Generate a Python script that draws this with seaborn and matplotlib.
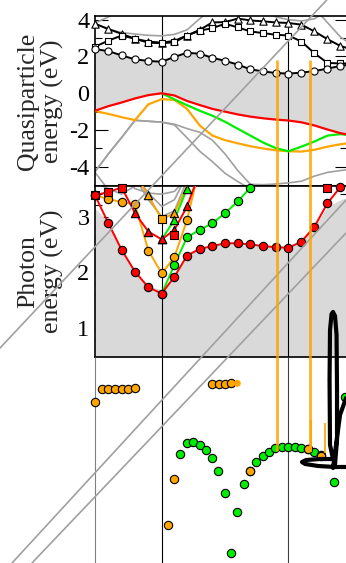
import numpy as np
import matplotlib
matplotlib.use("Agg")
import matplotlib.pyplot as plt
import seaborn as sns

nan = np.nan

# k-path coordinate of the sampled points (0 -> 1 -> 2.9 -> beyond)
kx = np.r_[np.linspace(0, 1, 6), np.linspace(1, 2.9, 11)[1:], 2.9 + 0.195 * np.arange(1, 6)]
k_symm = [1.0, 2.9]

# ---- quasiparticle bands (eV) ----
cb1 = [2.40, 2.29, 2.06, 1.84, 1.76, 1.71, 1.98, 2.20, 2.15, 1.93, 1.76, 1.56, 1.30, 1.19, 1.10, 1.07, 1.12, 1.21, 1.34, 1.49, 1.58]
cb2 = [2.53, 2.86, 3.14, 2.96, 2.75, 2.72, 2.77, 3.14, 3.40, 3.54, 3.78, 3.58, 3.36, 3.27, 3.18, 3.14, 2.81, 2.17, 1.65, 1.62, 1.62]
cb3 = [3.78, 3.49, 3.23, 2.96, 2.81, 2.75, 2.85, 3.14, 3.45, 3.85, 3.87, 4.06, 3.96, 3.91, 3.85, 3.82, 3.73, 3.36, 2.94, 2.57, 2.35]
vb_red = [-0.95, -0.70, -0.50, -0.28, -0.10, 0.00, -0.12, -0.42, -0.64, -0.85, -1.00, -1.15, -1.27, -1.36, -1.43, -1.48, -1.58, -1.75, -1.97, -2.17, -2.30]
vb_green = [nan] * 5 + [0.00, -0.33, -0.65, -0.95, -1.22, -1.55, -1.93, -2.30, -2.68, -2.98, -3.15, -2.90, -2.62, -2.30, -2.22, -2.30]
vb_orange = [-0.97, -1.12, -1.30, -1.46, -0.60, -0.32, -0.36, -0.85, -1.75, -2.30, -2.55, -2.72, -2.88, -3.00, -3.10, -3.15, -3.17, -3.07, -2.90, -2.77, -2.68]
vb_gray_a = [-4.26, -3.30, -2.40, -1.47, -1.52, -1.57, -1.72, -2.42, -3.15, -3.72, -4.35, -4.80, -5.20] + [nan] * 8
vb_gray_b = [-4.26, -3.30, -2.40, -1.47, -1.52, -1.57, -1.68, -1.92, -2.12, -2.55, -3.30, -4.20, -4.95, -4.97, -4.93, -4.87, -4.78, -4.50, -4.30, -4.20, -4.12]
vb_gray_c = [-4.30, -5.25] + [nan] * 19
cb_gray_a = [3.78, 3.49, 3.30, 3.22, 3.15, 3.12, 3.20, 3.45, 4.05, 4.60] + [nan] * 11
cb_gray_b = [3.82, 4.15, 4.50] + [nan] * 18
cb_gray_c = [nan] * 13 + [4.50, 4.15, 4.00, 3.93, 4.05, 4.50] + [nan] * 2
cb_gray_d = [nan] * 17 + [4.62, 3.84, 3.06, 2.55]

# ---- optical excitations (eV) ----
exc_onset = [3.15, 2.90, 2.42, 2.03, 1.76, 1.68, 1.94, 2.30, 2.42, 2.47, 2.52, 2.52, 2.50, 2.47, 2.45, 2.44, 2.55, 2.82, 3.18, 3.30, 3.38]
exc_red = [3.38, 2.88, 2.40, 2.01, 1.73, 1.62, 1.92, 2.30, 2.42, 2.47, 2.52, 2.52, 2.50, 2.47, 2.45, 2.44, 2.55, 2.82, 3.24, 3.53, 3.80]
exc_orange = [3.38, 3.31, 3.26, 3.22, 2.39, 1.98, 2.27, 2.94, 3.90] + [nan] * 12
exc_green = [nan] * 5 + [1.62, 2.13, 2.63, 2.76, 2.88, 3.06, 3.27, 3.52] + [nan] * 8
exc_red2 = [3.38, 3.44, 3.52, 3.06, 2.73, 2.59, 2.76, 3.18, 3.80] + [nan] * 12
exc_orange2 = [nan] * 3 + [3.75, 3.38, 2.95, 3.06, 3.55] + [nan] * 13
exc_green2 = [nan] * 5 + [2.59, 2.94, 3.50] + [nan] * 13
exc_red_sq_k = [kx[6], kx[18]]
exc_red_sq = [2.67, 3.52]
exc_gray = [
    [nan] * 3 + [3.70, 3.30, 3.00, 3.10, 3.65] + [nan] * 13,
    [nan] * 3 + [3.75, 3.42, 3.18, 3.30, 3.75] + [nan] * 13,
    [nan] * 2 + [3.70, 3.50, 3.42, 3.40, 3.45, 3.70] + [nan] * 13,
    [3.60, 3.50, 3.40, 3.55, 3.80] + [nan] * 16,
]

# ---- loose traces below the panels (same k / energy units) ----
stray_orange_k = [0.000, 0.100, 0.199, 0.300, 0.400, 0.499, 0.600, 1.759, 1.854, 1.949, 2.043, 1.184, 1.090, 2.324, 3.198, 3.388]
stray_orange_e = [-0.330, -0.091, -0.091, -0.091, -0.091, -0.086, -0.079, -0.007, -0.007, -0.002, 0.010, -1.704, -2.523, -1.561, -1.172, -1.287]
stray_orange_tail_k = [2.133]
stray_orange_tail_e = [0.010]
stray_green_k = [1.274, 1.375, 1.474, 1.570, 1.660, 1.759, 1.849, 1.945, 2.039, 2.133, 2.229, 2.324, 2.418,
                 2.514, 2.609, 2.703, 2.799, 2.894, 2.994, 3.088, 3.189, 3.288, 3.384, 3.588, 3.748]
stray_green_e = [-1.256, -1.065, -1.041, -1.090, -1.185, -1.333, -1.561, -1.950, -3.025, -2.296, -1.794, -1.556, -1.394,
                 -1.292, -1.215, -1.149, -1.136, -1.125, -1.125, -1.143, -1.172, -1.215, -1.274, -1.758, -0.229]
orange_trace_k = [2.724, 3.223]
orange_trace_top = [5.805, 5.805]
orange_trace_bot = [-1.203, -1.203]
orange_spike_k = [3.238, 3.448]
orange_spike_top = [-0.647, -0.700]
orange_spike_bot = [-1.220, -1.240]
blob_k = [3.763, 3.598, 3.343, 3.148, 3.103, 3.163, 3.373, 3.568, 3.523, 3.516, 3.523, 3.546, 3.568, 3.598, 3.621,
          3.628, 3.628, 3.598, 3.568, 3.613, 3.673, 3.763]
blob_e = [-1.489, -1.489, -1.471, -1.435, -1.400, -1.364, -1.346, -1.346, -1.095, 0.070, 0.966, 1.253, 1.289, 1.217,
          0.876, -0.109, -1.005, -1.435, -1.507, -1.095, -0.557, -0.253]
guide_start = [(-1.424, 0.643), (-1.244, -3.210), (-0.945, -3.210)]
guide_end = [(3.474, 6.880), (3.763, 3.296), (3.763, 2.704)]

# ---------------------------------------------------------------
sns.set_theme(style="ticks")
plt.rcParams["font.family"] = ["Liberation Serif", "DejaVu Serif"]
plt.rcParams["axes.unicode_minus"] = False

RED, GREEN, ORANGE, GRAY, FILL = "#ff0000", "#00ee00", "#ffa500", "#a0a0a0", "#d9d9d9"

W, H = 346, 563
fig = plt.figure(figsize=(W / 100, H / 100), dpi=100)
x_left, x_right = 95, 346.5
ax_qp = fig.add_axes([x_left / W, (H - 186) / H, (x_right - x_left) / W, 170 / H])
ax_ph = fig.add_axes([x_left / W, (H - 357) / H, (x_right - x_left) / W, 171 / H])
k_max = 3.77
qp_lim = (-5.04, 4.2)
ph_lim = (0.482, 3.547)

kx_edge = np.r_[kx, k_max]


def line(ax, y, color, lw, z=3):
    y = np.asarray(y, float)
    m = ~np.isnan(y)
    sns.lineplot(x=kx[m], y=y[m], ax=ax, color=color, lw=lw, sort=False,
                 estimator=None, zorder=z, legend=False)


def dots(ax, x, y, marker, face, s, z=4, ylim=None):
    x = np.asarray(x, float)
    y = np.asarray(y, float)
    m = ~np.isnan(y)
    if ylim is not None:
        m &= (y >= ylim[0]) & (y <= ylim[1] + 0.03)
    sns.scatterplot(x=x[m], y=y[m], ax=ax, marker=marker, color=face, edgecolor="black",
                    linewidth=0.8, s=s, zorder=z, clip_on=False, legend=False)


for ax, lim in ((ax_qp, qp_lim), (ax_ph, ph_lim)):
    ax.set_xlim(0, k_max)
    ax.set_ylim(*lim)
    ax.set_xticks([])
    for sp in ax.spines.values():
        sp.set_color("black")
        sp.set_linewidth(1.2)
        sp.set_visible(True)
    for k in k_symm:
        ax.axvline(k, color="black", lw=0.8, zorder=1.5)
    ax.tick_params(axis="y", which="both", direction="in", left=True, right=True,
                   colors="black", width=0.8, labelsize=17.5, pad=4)
    ax.tick_params(axis="y", which="major", length=9)
    ax.tick_params(axis="y", which="minor", length=4.8)

# ---- quasiparticle panel ----
ax_qp.fill_between(kx_edge, np.r_[vb_red, vb_red[-1]], np.r_[cb1, cb1[-1]], color=FILL, lw=0, zorder=1)
for g in (vb_gray_a, vb_gray_b, vb_gray_c, cb_gray_a, cb_gray_b, cb_gray_c, cb_gray_d):
    line(ax_qp, g, GRAY, 1.2, z=2)
line(ax_qp, vb_orange, ORANGE, 1.6)
line(ax_qp, vb_green, GREEN, 1.6)
line(ax_qp, vb_red, RED, 1.6)
for band, mk, s in ((cb3, "^", 28), (cb2, "s", 22), (cb1, "o", 26)):
    line(ax_qp, band, "black", 1.4)
    dots(ax_qp, kx, band, mk, "white", s)
ax_qp.set_yticks([4, 2, 0, -2, -4])
ax_qp.set_yticks([3, 1, -1, -3], minor=True)
ax_qp.set_ylabel("Quasiparticle\nenergy (eV)", fontsize=18.5, linespacing=1.1)
ax_qp.yaxis.set_label_coords(-0.122, 0.5)

# ---- photon panel ----
ax_ph.fill_between(kx_edge, ph_lim[0], np.r_[exc_onset, exc_onset[-1]], color=FILL, lw=0, zorder=1)
for g in exc_gray:
    line(ax_ph, g, GRAY, 1.2, z=2)
line(ax_ph, exc_orange2, ORANGE, 1.4)
line(ax_ph, exc_orange, ORANGE, 1.4)
line(ax_ph, exc_green2, GREEN, 1.4)
line(ax_ph, exc_green, GREEN, 1.4)
line(ax_ph, exc_red2, RED, 1.4)
line(ax_ph, exc_red, RED, 1.4)
S = 36
dots(ax_ph, kx, exc_orange, "o", ORANGE, S, ylim=ph_lim)
dots(ax_ph, kx[4:5], exc_orange2[4:5], "^", ORANGE, S, ylim=ph_lim)
dots(ax_ph, kx[5:6], exc_orange2[5:6], "s", ORANGE, S * 0.8, ylim=ph_lim)
dots(ax_ph, kx[6:7], exc_orange2[6:7], "^", ORANGE, S, ylim=ph_lim)
dots(ax_ph, kx, exc_green, "o", GREEN, S, ylim=ph_lim)
dots(ax_ph, kx, exc_green2, "^", GREEN, S, ylim=ph_lim)
dots(ax_ph, kx[:3], exc_red2[:3], "s", RED, S * 0.8, ylim=ph_lim)
dots(ax_ph, kx[3:8], exc_red2[3:8], "^", RED, S, ylim=ph_lim)
dots(ax_ph, exc_red_sq_k, exc_red_sq, "s", RED, S * 0.8, ylim=ph_lim)
dots(ax_ph, kx, exc_red, "o", RED, S, ylim=ph_lim)
ax_ph.set_yticks([1, 2, 3])
ax_ph.set_yticks(np.arange(0.6, 3.55, 0.2), minor=True)
ax_ph.set_ylabel("Photon\nenergy (eV)", fontsize=18.5, linespacing=1.1)
ax_ph.yaxis.set_label_coords(-0.122, 0.5)

# ---- overlay spanning the whole canvas, same k / energy units ----
ov = fig.add_axes([0, 0, 1, 1], zorder=5)
ov.patch.set_alpha(0)
ov.axis("off")
ov.set_xlim(-x_left / 66.71, (W - x_left) / 66.71)
ov.set_ylim(2 - (H - 272.3) / 55.8, 2 + 272.3 / 55.8)

for kk, col in zip([0.0] + k_symm, ["#808080", "black", "#404040"]):
    ov.vlines(kk, ov.get_ylim()[0], ph_lim[0], color=col, lw=0.8, zorder=1)
for p0, p1 in zip(guide_start, guide_end):
    ov.axline(p0, p1, color=GRAY, lw=1.2, zorder=2)

sns.scatterplot(x=stray_green_k, y=stray_green_e, ax=ov, color=GREEN, edgecolor="black",
                linewidth=0.8, s=S, zorder=3, legend=False, clip_on=False)
sns.scatterplot(x=stray_orange_k, y=stray_orange_e, ax=ov, color=ORANGE, edgecolor="black",
                linewidth=0.8, s=S, zorder=3.5, legend=False, clip_on=False)
sns.scatterplot(x=stray_orange_tail_k, y=stray_orange_tail_e, ax=ov, color=ORANGE, edgecolor="none",
                s=S * 0.7, zorder=3.5, legend=False)
ov.vlines(orange_trace_k, orange_trace_bot, orange_trace_top, color=ORANGE, lw=2.0, alpha=0.85, zorder=4)
ov.vlines(orange_spike_k, orange_spike_bot, orange_spike_top, color=ORANGE, lw=1.5, alpha=0.85, zorder=4)
sns.lineplot(x=blob_k, y=blob_e, ax=ov, color="black", lw=3.0, sort=False, estimator=None,
             zorder=5, legend=False)

fig.savefig("out.png", dpi=100)
